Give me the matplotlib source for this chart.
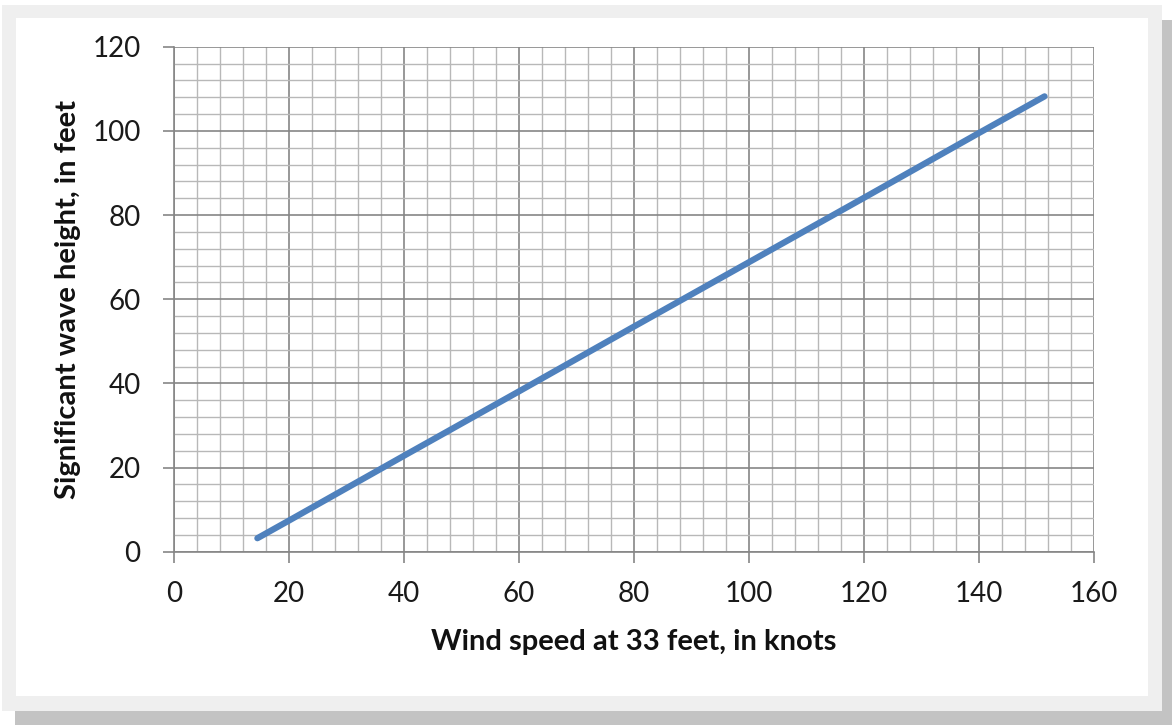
import matplotlib
matplotlib.use("Agg")
import matplotlib.pyplot as plt
from matplotlib.patches import Rectangle
from matplotlib.ticker import MultipleLocator

# values
wind_speed = [14.5, 20, 40, 60, 80, 100, 120, 140, 151.4]
wave_height = [3.2, 7.4, 22.8, 38.1, 53.5, 68.8, 84.1, 99.5, 108.2]
x_ticks = [0, 20, 40, 60, 80, 100, 120, 140, 160]
y_ticks = [0, 20, 40, 60, 80, 100, 120]

W, H = 1172, 725
plt.rcParams['font.family'] = ['Lato', 'DejaVu Sans']

fig = plt.figure(figsize=(W / 100, H / 100), dpi=100)
fig.patch.set_facecolor('white')


def box(x0, y0, x1, y1, color):
    # pixel box (top-left origin) -> figure fraction
    fig.patches.append(Rectangle((x0 / W, 1 - y1 / H), (x1 - x0) / W, (y1 - y0) / H,
                                 transform=fig.transFigure, facecolor=color,
                                 edgecolor='none', zorder=-3))


box(15, 20, 1172, 725, '#c3c3c3')   # shadow
box(2, 5, 1162, 711, '#efefef')     # frame
box(16, 18, 1148, 696, 'white')     # chart area

ax = fig.add_axes([174 / W, (H - 551.7) / H, 920 / W, 505 / H])
ax.set_facecolor('none')

ax.plot(wind_speed, wave_height, color='#4f81bd', lw=4.5, solid_capstyle='round', zorder=3)

ax.set_xlim(0, 160)
ax.set_ylim(0, 120)
ax.set_xticks(x_ticks)
ax.set_yticks(y_ticks)
ax.xaxis.set_minor_locator(MultipleLocator(4))
ax.yaxis.set_minor_locator(MultipleLocator(4))
ax.grid(which='major', color='#868686', lw=1.2)
ax.grid(which='minor', color='#b8b8b8', lw=1.0)
ax.set_axisbelow(True)

for side in ['top', 'right']:
    ax.spines[side].set_visible(False)
for side in ['left', 'bottom']:
    ax.spines[side].set_color('#868686')
    ax.spines[side].set_linewidth(1.2)

ax.tick_params(which='major', length=8, width=1.2, color='#868686',
               labelsize=20, labelcolor='#1a1a1a')
ax.tick_params(axis='x', pad=13)
ax.tick_params(axis='y', pad=16)
ax.tick_params(which='minor', length=0)

ax.set_xlabel('Wind speed at 33 feet, in knots', fontsize=21, fontweight='bold',
              color='#111111', labelpad=16)
ax.set_ylabel('Significant wave height, in feet', fontsize=21, fontweight='bold',
              color='#111111', labelpad=8)

fig.savefig('out.png', dpi=100)
